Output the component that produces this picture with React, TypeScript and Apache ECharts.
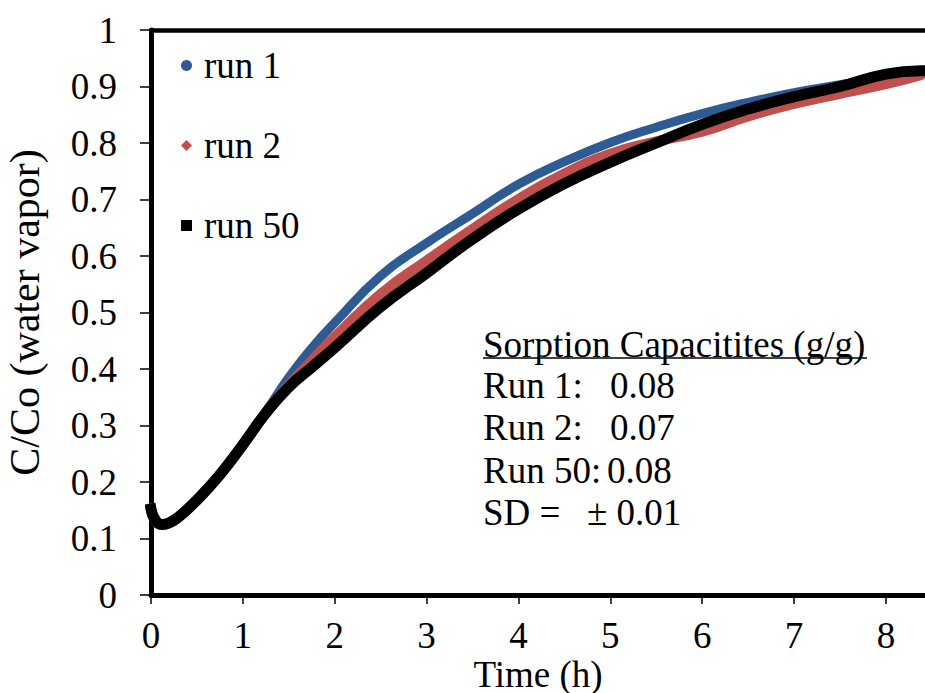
import React, { useEffect, useRef } from "react";
import * as echarts from "echarts";

const timeH = [0, 0.05, 0.12, 0.2, 0.3, 0.5, 0.75, 1.0, 1.25, 1.5, 1.75, 2.0, 2.5, 3.0, 3.5, 4.0, 4.5, 5.0, 5.5, 6.0, 6.5, 7.0, 7.5, 8.0, 8.38];
const run1 = [0.155, 0.133, 0.125, 0.128, 0.138, 0.17, 0.215, 0.268, 0.325, 0.385, 0.437, 0.482, 0.565, 0.623, 0.675, 0.727, 0.767, 0.801, 0.828, 0.852, 0.872, 0.889, 0.903, 0.918, 0.926];
const run2 = [0.15, 0.13, 0.124, 0.127, 0.137, 0.168, 0.213, 0.266, 0.322, 0.372, 0.415, 0.457, 0.533, 0.592, 0.648, 0.701, 0.746, 0.781, 0.803, 0.82, 0.847, 0.869, 0.887, 0.904, 0.92];
const run50 = [0.152, 0.132, 0.125, 0.128, 0.138, 0.168, 0.213, 0.266, 0.322, 0.368, 0.403, 0.438, 0.51, 0.57, 0.63, 0.683, 0.728, 0.766, 0.8, 0.833, 0.86, 0.882, 0.9, 0.922, 0.928];
const seriesNames = ["run 1", "run 2", "run 50"];
const xTicks = [0, 1, 2, 3, 4, 5, 6, 7, 8];
const yTicks = [0, 0.1, 0.2, 0.3, 0.4, 0.5, 0.6, 0.7, 0.8, 0.9, 1];
const noteTitle = "Sorption Capacitites (g/g)";
const noteLabels = ["Run 1:", "Run 2:", "Run 50:", "SD ="];
const noteValues = ["0.08", "0.07", "0.08", "± 0.01"];

const FONT = "Liberation Serif, serif";

function pairs(xs: number[], ys: number[]) {
  return xs.map((x, i) => [x, ys[i]]);
}

export default function App() {
  const ref = useRef<HTMLDivElement>(null);
  useEffect(() => {
    if (!ref.current) return;
    const chart = echarts.init(ref.current, null, { renderer: "svg" });
    const fs = 37;
    const noteX = 483;
    const valueX = [610, 610, 607, 610];
    const rowY = [385, 427, 470, 512];
    const graphics: any[] = [
      {
        type: "text",
        style: { text: noteTitle, x: noteX, y: 344, fontSize: fs, fontFamily: FONT, fill: "#000", verticalAlign: "middle" },
      },
      {
        type: "line",
        shape: { x1: noteX, y1: 358, x2: 867, y2: 358 },
        style: { stroke: "#000", lineWidth: 1.5 },
      },
    ];
    noteLabels.forEach((t, i) => {
      graphics.push({
        type: "text",
        style: { text: t, x: noteX, y: rowY[i], fontSize: fs, fontFamily: FONT, fill: "#000", verticalAlign: "middle" },
      });
      graphics.push({
        type: "text",
        style: {
          text: noteValues[i],
          x: i === 3 ? 587 : valueX[i],
          y: rowY[i],
          fontSize: fs,
          fontFamily: FONT,
          fill: "#000",
          verticalAlign: "middle",
        },
      });
    });

    chart.setOption({
      animation: false,
      textStyle: { fontFamily: FONT },
      grid: { left: 151, right: 0, top: 30, bottom: 98, containLabel: false, outerBoundsMode: "none" },
      legend: {
        orient: "vertical",
        left: 176,
        top: 42,
        itemGap: 43,
        itemWidth: 11,
        itemHeight: 11,
        textStyle: { fontSize: 37, fontFamily: FONT, color: "#000", padding: [0, 0, 0, 7] },
        data: [
          { name: seriesNames[0], icon: "circle", itemStyle: { color: "#2E5B93" } },
          { name: seriesNames[1], icon: "diamond", itemStyle: { color: "#C0504D" } },
          { name: seriesNames[2], icon: "rect", itemStyle: { color: "#000" } },
        ],
      },
      xAxis: [
        {
          type: "value",
          min: 0,
          max: 8.425,
          name: "Time (h)",
          nameLocation: "middle",
          nameGap: 61,
          nameMoveOverlap: false,
          nameTextStyle: { fontSize: 37, fontFamily: FONT, color: "#000" },
          axisLine: { show: true, lineStyle: { color: "#000", width: 5 } },
          axisTick: { show: true, length: 9, lineStyle: { color: "#000", width: 1.5 }, customValues: xTicks },
          axisLabel: { fontSize: 37, fontFamily: FONT, color: "#000", margin: 22, customValues: xTicks },
          splitLine: { show: false },
        },
        {
          type: "value",
          position: "top",
          min: 0,
          max: 8.425,
          axisLine: { show: true, onZero: false, lineStyle: { color: "#000", width: 4.5 } },
          axisTick: { show: false },
          axisLabel: { show: false },
          splitLine: { show: false },
        },
      ],
      yAxis: {
        type: "value",
        min: 0,
        max: 1,
        interval: 0.1,
        name: "C/Co (water vapor)",
        nameLocation: "middle",
        nameGap: 105,
        nameMoveOverlap: false,
        nameTextStyle: { fontSize: 42, fontFamily: FONT, color: "#000" },
        axisLine: { show: true, lineStyle: { color: "#000", width: 5 } },
        axisTick: { show: true, length: 11, lineStyle: { color: "#000", width: 1.5 }, customValues: yTicks },
        axisLabel: {
          fontSize: 37,
          fontFamily: FONT,
          color: "#000",
          margin: 34,
          formatter: (v: number) => String(Math.round(v * 10) / 10),
        },
        splitLine: { show: false },
      },
      series: [
        {
          name: seriesNames[0],
          type: "line",
          data: pairs(timeH, run1),
          smooth: true,
          showSymbol: false,
          lineStyle: { color: "#2E5B93", width: 9, cap: "round", join: "round" },
          itemStyle: { color: "#2E5B93" },
        },
        {
          name: seriesNames[1],
          type: "line",
          data: pairs(timeH, run2),
          smooth: true,
          showSymbol: false,
          lineStyle: { color: "#C0504D", width: 10, cap: "round", join: "round" },
          itemStyle: { color: "#C0504D" },
        },
        {
          name: seriesNames[2],
          type: "line",
          data: pairs(timeH, run50),
          smooth: true,
          showSymbol: false,
          lineStyle: { color: "#000", width: 11, cap: "square", join: "round" },
          itemStyle: { color: "#000" },
        },
      ],
      graphic: graphics,
    });
    return () => chart.dispose();
  }, []);
  return (
    <div
      ref={ref}
      style={{ position: "absolute", left: 0, top: 0, width: 925, height: 693, background: "#fff" }}
    />
  );
}
